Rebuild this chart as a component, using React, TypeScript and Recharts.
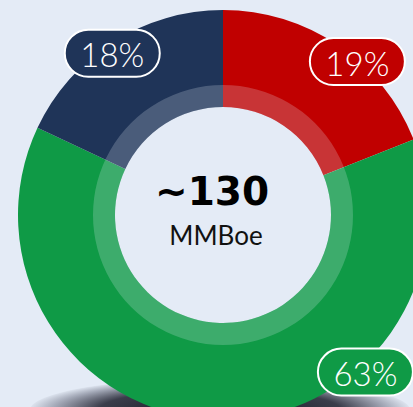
import { PieChart, Pie, Cell } from 'recharts';

const names = ['Red', 'Green', 'Blue'];
const shares = [19, 63, 18];
const colors = ['#c00000', '#0f9a46', '#1f3458'];
const totalLabel = '~130';
const unitLabel = 'MMBoe';

const data = names.map((name, i) => ({ name, value: shares[i] }));
const ring = [{ name: 'ring', value: 1 }];

// label nudges so the pills sit where the original puts them
const labelNudge: Record<string, { da: number; r: number }> = {
  Red: { da: -7, r: 204 },
  Green: { da: 44, r: 212 },
  Blue: { da: 2, r: 196 },
};

const RADIAN = Math.PI / 180;

function PillLabel(props: any) {
  const { cx, cy, midAngle, index, name } = props;
  const nudge = labelNudge[name] || { da: 0, r: 200 };
  const a = (midAngle + nudge.da) * RADIAN;
  const x = cx + nudge.r * Math.cos(-a);
  const y = cy + nudge.r * Math.sin(-a);
  const w = 95;
  const h = 47;
  return (
    <g>
      <rect
        x={x - w / 2}
        y={y - h / 2}
        width={w}
        height={h}
        rx={h / 2}
        fill={colors[index]}
        stroke="#fff"
        strokeWidth={2}
      />
      <text
        x={x}
        y={y + 1}
        textAnchor="middle"
        dominantBaseline="central"
        fill="#fff"
        style={{ fontFamily: 'Lato, sans-serif', fontWeight: 300, fontSize: 33 }}
      >
        {`${shares[index]}%`}
      </text>
    </g>
  );
}

export default function App() {
  const cx = 218;
  const cy = 210;
  return (
    <div
      style={{
        position: 'fixed',
        left: 0,
        top: 0,
        width: 413,
        height: 407,
        overflow: 'hidden',
        background: '#e4ebf6',
      }}
    >
      {/* soft shadow under the donut */}
      <div
        style={{
          position: 'absolute',
          left: 30,
          top: 378,
          width: 380,
          height: 64,
          borderRadius: '50%',
          background:
            'radial-gradient(ellipse at center, rgba(20,22,32,1) 0%, rgba(40,42,56,0.9) 45%, rgba(100,104,122,0.5) 62%, rgba(228,235,246,0) 72%)',
        }}
      />
      <div style={{ position: 'absolute', left: 0, top: 0 }}>
        <PieChart width={413} height={407}>
          <Pie
            data={data}
            dataKey="value"
            nameKey="name"
            cx={cx}
            cy={cy}
            innerRadius={108}
            outerRadius={205}
            startAngle={90}
            endAngle={-270}
            stroke="none"
            isAnimationActive={false}
            label={PillLabel}
            labelLine={false}
          >
            {data.map((d, i) => (
              <Cell key={d.name} fill={colors[i]} />
            ))}
          </Pie>
          <Pie
            data={ring}
            dataKey="value"
            cx={cx}
            cy={cy}
            innerRadius={108}
            outerRadius={130}
            startAngle={90}
            endAngle={-270}
            stroke="none"
            fill="#e4ebf6"
            fillOpacity={0.22}
            isAnimationActive={false}
          />
          <text
            x={cx - 6}
            y={205}
            textAnchor="middle"
            fill="#000"
            style={{ fontFamily: '"DejaVu Sans", sans-serif', fontWeight: 700, fontSize: 39 }}
          >
            {totalLabel}
          </text>
          <text
            x={cx - 2}
            y={245}
            textAnchor="middle"
            fill="#111"
            style={{ fontFamily: 'Lato, sans-serif', fontWeight: 400, fontSize: 26 }}
          >
            {unitLabel}
          </text>
        </PieChart>
      </div>
    </div>
  );
}
